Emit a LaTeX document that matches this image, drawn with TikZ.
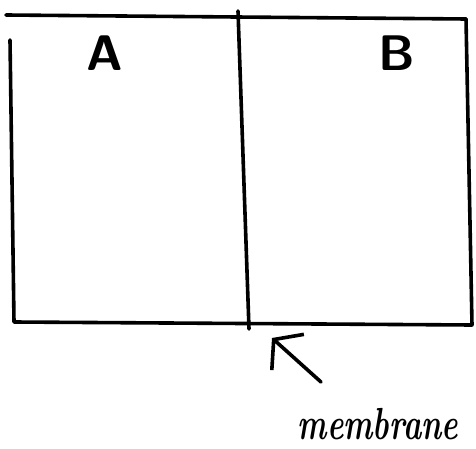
\documentclass[tikz,border=0pt]{standalone}
\usetikzlibrary{arrows.meta}
\begin{document}
\begin{tikzpicture}[x=1pt,y=-1pt,line cap=round,line join=round]
\useasboundingbox (0,0) rectangle (476,449);
% corners of the tank
\coordinate (tl) at (6,15);
\coordinate (tr) at (466,19);
\coordinate (ltop) at (10,40);
\coordinate (bl) at (14,322);
\coordinate (br) at (472,325);
\coordinate (mtop) at (238,11);
\coordinate (mbot) at (249,329);
\coordinate (tail) at (321,382);
\coordinate (tip) at (272,338);
\draw[line width=3.6pt] (tl) -- (tr);
\draw[line width=3.6pt] (ltop) -- (bl) -- (br) -- (tr);
\draw[line width=3.6pt] (mtop) -- (mbot);
\draw[line width=3.6pt,-{Straight Barb[length=19pt,width=48pt]}] (tail) -- (tip);
\node[font=\fontsize{50}{50}\selectfont\sffamily\bfseries] (lA) at (105,53) {A};
\node[font=\fontsize{50}{50}\selectfont\sffamily\bfseries] (lB) at (397,53) {B};
\node[font=\fontsize{31}{31}\selectfont\bfseries\itshape,yscale=1.45,inner sep=0pt] (memb) at (378,424) {membrane};
\end{tikzpicture}
\end{document}
